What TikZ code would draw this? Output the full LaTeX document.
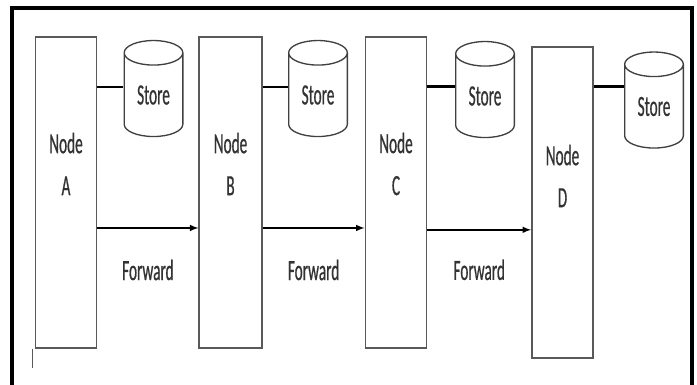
\documentclass[tikz,border=0pt]{standalone}
\usepackage{fontspec}
\setmainfont{Carlito}[FakeStretch=0.52, FakeBold=0.6]
\usepackage{tikz}
\usetikzlibrary{arrows, shapes.geometric}

\begin{document}
\begin{tikzpicture}[x=0.75pt, y=-0.75pt, >=latex,
			knoten/.style={draw=black!65, line width=1.1pt, minimum width=#1, minimum height=233pt, inner sep=0pt},
			speicher/.style={cylinder, shape border rotate=90, draw=black!75, line width=1pt, aspect=0.75,
				minimum width=44pt, minimum height=72pt, inner sep=0pt, text=black!80},
			verbindung/.style={line width=2.2pt},
			pfeil/.style={->, line width=1.2pt},
			beschriftung/.style={text=black!80, align=center},
			font=\fontsize{22}{31.5}\selectfont]
			% Bildbereich
			\useasboundingbox (0,0) rectangle (697,385);
			% Rahmen (unten offen)
			\draw[line width=2.4pt] (12,385) -- (12,8) -- (692,8) -- (692,385);
			% Knoten
			\node[knoten=46pt] (A) at (66,192.5) {};
			\node[knoten=47pt] (B) at (230.5,192.5) {};
			\node[knoten=46pt] (C) at (396,192.5) {};
			\node[knoten=46pt] (D) at (562.5,202.5) {};
			\node[beschriftung] at (66,164) {Node\\A};
			\node[beschriftung] at (230.5,164) {Node\\B};
			\node[beschriftung] at (396,164) {Node\\C};
			\node[beschriftung] at (562.5,176) {Node\\D};
			% kleiner Strich unter A
			\draw[black!65, line width=1.1pt] (A.south west) ++(-2,0) -- ++(0,19);
			% Speicher
			\node[speicher] (SA) at (153.5,95) {Store};
			\node[speicher] (SB) at (318,95) {Store};
			\node[speicher] (SC) at (485,96) {Store};
			\node[speicher] (SD) at (654,106.5) {Store};
			% Verbindungen Knoten - Speicher
			\draw[verbindung] ([yshift=6pt]SA.west) -- ([yshift=6pt]SA.west -| A.east);
			\draw[verbindung] ([yshift=6pt]SB.west) -- ([yshift=6pt]SB.west -| B.east);
			\draw[verbindung] ([yshift=7pt]SC.west) -- ([yshift=7pt]SC.west -| C.east);
			\draw[verbindung] ([yshift=15pt]SD.west) -- ([yshift=15pt]SD.west -| D.east);
			% Weiterleitung
			\draw[pfeil] ([yshift=-26.6pt]A.east) -- ([yshift=-26.6pt]A.east -| B.west)
				node[beschriftung, midway, yshift=-31.5pt] {Forward};
			\draw[pfeil] ([yshift=-26.6pt]B.east) -- ([yshift=-26.6pt]B.east -| C.west)
				node[beschriftung, midway, yshift=-31.5pt] {Forward};
			\draw[pfeil] ([yshift=-28pt]C.east) -- ([yshift=-28pt]C.east -| D.west)
				node[beschriftung, midway, yshift=-30pt] {Forward};
		\end{tikzpicture}
\end{document}
